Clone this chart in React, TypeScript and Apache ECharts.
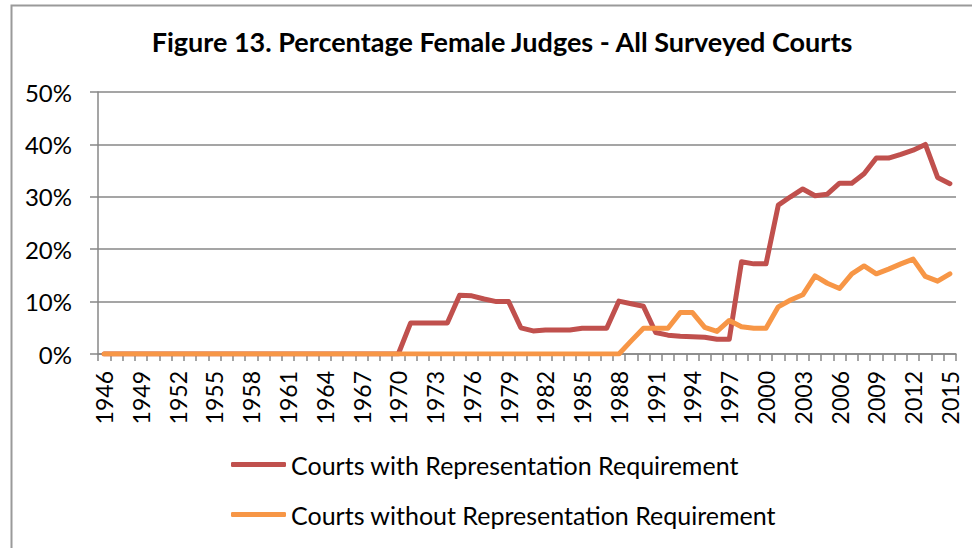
import React, { useEffect, useRef } from "react";
import * as echarts from "echarts";

const years: string[] = [
  "1946","1947","1948","1949","1950","1951","1952","1953","1954","1955",
  "1956","1957","1958","1959","1960","1961","1962","1963","1964","1965",
  "1966","1967","1968","1969","1970","1971","1972","1973","1974","1975",
  "1976","1977","1978","1979","1980","1981","1982","1983","1984","1985",
  "1986","1987","1988","1989","1990","1991","1992","1993","1994","1995",
  "1996","1997","1998","1999","2000","2001","2002","2003","2004","2005",
  "2006","2007","2008","2009","2010","2011","2012","2013","2014","2015",
];

// % female judges, courts with representation requirement
const withRequirement: number[] = [
  0, 0, 0, 0, 0, 0, 0, 0, 0, 0,
  0, 0, 0, 0, 0, 0, 0, 0, 0, 0,
  0, 0, 0, 0, 0, 5.9, 5.9, 5.9, 5.9, 11.2,
  11.1, 10.5, 10.0, 10.0, 5.0, 4.4, 4.6, 4.6, 4.6, 4.9,
  4.9, 4.9, 10.1, 9.6, 9.1, 4.1, 3.6, 3.4, 3.3, 3.2,
  2.8, 2.8, 17.6, 17.2, 17.2, 28.4, 30.0, 31.5, 30.2, 30.5,
  32.6, 32.6, 34.4, 37.4, 37.4, 38.1, 38.9, 40.0, 33.7, 32.5,
];

// % female judges, courts without representation requirement
const withoutRequirement: number[] = [
  0, 0, 0, 0, 0, 0, 0, 0, 0, 0,
  0, 0, 0, 0, 0, 0, 0, 0, 0, 0,
  0, 0, 0, 0, 0, 0, 0, 0, 0, 0,
  0, 0, 0, 0, 0, 0, 0, 0, 0, 0,
  0, 0, 0, 2.5, 4.9, 4.9, 4.9, 7.9, 7.9, 5.1,
  4.3, 6.4, 5.2, 4.9, 4.9, 9.0, 10.3, 11.3, 14.9, 13.5,
  12.5, 15.3, 16.8, 15.3, 16.2, 17.2, 18.1, 14.8, 13.9, 15.3,
];

const seriesNames: string[] = [
  "Courts with Representation Requirement",
  "Courts without Representation Requirement",
];

const titleText = "Figure 13. Percentage Female Judges - All Surveyed Courts";

const FONT = "Lato, 'Open Sans', sans-serif";
const GRID_COLOR = "#878787";

export default function App() {
  const ref = useRef<HTMLDivElement>(null);

  useEffect(() => {
    if (!ref.current) return;
    const chart = echarts.init(ref.current, undefined, { renderer: "svg" });
    chart.setOption({
      animation: false,
      backgroundColor: "#ffffff",
      textStyle: { fontFamily: FONT },
      title: {
        text: titleText,
        left: 497,
        textAlign: "center",
        top: 23,
        textStyle: {
          fontFamily: FONT,
          fontSize: 27,
          fontWeight: "bold",
          color: "#000000",
        },
      },
      graphic: [
        {
          type: "rect",
          left: 9,
          top: 3,
          shape: { width: 1000, height: 620 },
          style: { fill: "none", stroke: "#9a9a9a", lineWidth: 2 },
          silent: true,
        },
      ],
      grid: {
        left: 98,
        right: 16,
        top: 92,
        bottom: 194,
        containLabel: false,
      },
      legend: {
        orient: "vertical",
        left: 231,
        top: 452,
        padding: 0,
        itemWidth: 55,
        itemHeight: 5,
        itemGap: 25,
        icon: "roundRect",
        data: seriesNames,
        textStyle: { fontFamily: FONT, fontSize: 25, color: "#000000" },
      },
      xAxis: {
        type: "category",
        data: years,
        boundaryGap: true,
        axisLine: { lineStyle: { color: GRID_COLOR, width: 1.5 } },
        axisTick: {
          show: true,
          interval: 0,
          length: 7,
          alignWithLabel: false,
          lineStyle: { color: GRID_COLOR, width: 1.5 },
        },
        axisLabel: {
          interval: 2,
          rotate: 90,
          margin: 17,
          fontFamily: FONT,
          fontSize: 23,
          color: "#000000",
        },
        splitLine: { show: false },
      },
      yAxis: {
        type: "value",
        min: 0,
        max: 50,
        interval: 10,
        axisLine: { show: true, lineStyle: { color: GRID_COLOR, width: 1.5 } },
        axisTick: {
          show: true,
          length: 8,
          lineStyle: { color: GRID_COLOR, width: 1.5 },
        },
        axisLabel: {
          formatter: "{value}%",
          margin: 26,
          fontFamily: FONT,
          fontSize: 24,
          color: "#000000",
        },
        splitLine: { show: true, lineStyle: { color: GRID_COLOR, width: 1.5 } },
      },
      series: [
        {
          name: seriesNames[0],
          type: "line",
          data: withRequirement,
          showSymbol: false,
          symbol: "none",
          color: "#C0504D",
          lineStyle: { width: 5, color: "#C0504D", cap: "round", join: "round" },
          z: 2,
        },
        {
          name: seriesNames[1],
          type: "line",
          data: withoutRequirement,
          showSymbol: false,
          symbol: "none",
          color: "#F79646",
          lineStyle: { width: 5, color: "#F79646", cap: "round", join: "round" },
          z: 3,
        },
      ],
    });
    return () => {
      chart.dispose();
    };
  }, []);

  return (
    <div
      ref={ref}
      style={{ position: "absolute", left: 0, top: 0, width: 972, height: 548 }}
    />
  );
}
